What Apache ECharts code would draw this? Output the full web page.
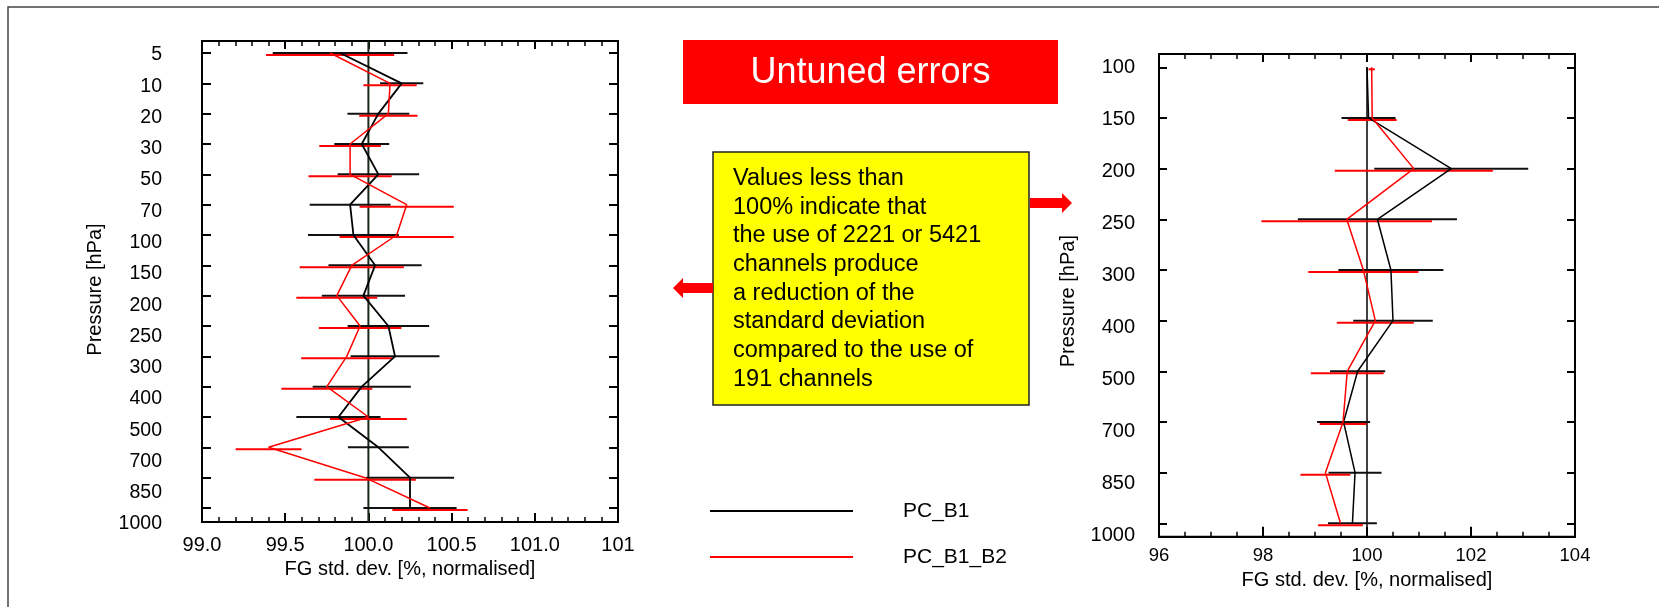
<!DOCTYPE html>
<html>
<head>
<meta charset="utf-8">
<script src="https://cdn.jsdelivr.net/npm/echarts@6/dist/echarts.min.js"></script>
<style>
html,body{margin:0;padding:0;background:#fff;}
#c{width:1659px;height:607px;}
</style>
</head>
<body>
<div id="c"></div>
<script>
// ---- Left panel data ----
const levelsL = ['5','10','20','30','50','70','100','150','200','250','300','400','500','700','850','1000'];
const b1L    = [99.83,100.20,100.06,99.96,100.06,99.89,99.91,100.04,99.97,100.12,100.16,99.96,99.82,100.06,100.25,100.25];
const b1ErrL = [0.405,0.13,0.186,0.165,0.245,0.243,0.273,0.28,0.25,0.245,0.267,0.295,0.253,0.183,0.265,0.28];
const b2L    = [99.77,100.13,100.12,99.89,99.89,100.23,100.17,99.90,99.81,99.95,99.87,99.75,100.00,99.40,99.98,100.37];
const b2ErrL = [0.385,0.16,0.175,0.185,0.25,0.283,0.343,0.313,0.243,0.248,0.274,0.273,0.231,0.198,0.305,0.226];
const xTicksL = ['99.0','99.5','100.0','100.5','101.0','101'];

// ---- Right panel data ----
const levelsR = ['100','150','200','250','300','400','500','700','850','1000'];
const b1R    = [100.00,100.03,101.62,100.20,100.46,100.50,99.82,99.55,99.77,99.72];
const b1ErrR = [0,0.52,1.48,1.53,1.01,0.765,0.53,0.51,0.51,0.47];
const b2R    = [100.09,100.10,100.90,99.61,99.93,100.16,99.62,99.54,99.20,99.49];
const b2ErrR = [0.06,0.47,1.52,1.64,1.06,0.74,0.70,0.45,0.48,0.43];
const xTicksR = ['96','98','100','102','104'];

const seriesNames = ['PC_B1','PC_B1_B2'];
const boxLines = ['Values less than','100% indicate that','the use of 2221 or 5421','channels produce','a reduction of the','standard deviation','compared to the use of','191 channels'];

const FONT = '"Liberation Sans", Arial, Helvetica, sans-serif';

function lineSeries(name, vals, color, width, xi, yi) {
  return {
    type:'line', name:name, xAxisIndex:xi, yAxisIndex:yi,
    data: vals.map((v,i)=>[v,i]), showSymbol:false, symbol:'none',
    color:color, lineStyle:{color:color,width:width}, silent:true, clip:false, z:3
  };
}
function errSeries(vals, errs, color, dy, xi, yi) {
  return {
    type:'custom', xAxisIndex:xi, yAxisIndex:yi, silent:true, clip:false, z:2,
    data: vals.map((v,i)=>[v, errs[i], i]),
    encode:{x:0, y:2},
    renderItem:function(params, api){
      const x = api.value(0), e = api.value(1), y = api.value(2);
      if (!e) return null;
      const a = api.coord([x-e, y]), b = api.coord([x+e, y]);
      return {type:'line', shape:{x1:a[0], y1:a[1]+dy, x2:b[0], y2:b[1]+dy},
              style:{stroke:color, lineWidth:2}};
    }
  };
}

const hiddenAxis = (g,min,max,inv)=>({type:'value', gridIndex:g, min:min, max:max, inverse:!!inv, show:false});
const frameX = (g,pos,min,max,itv,split,majLen,labelOpt,nameOpt)=>Object.assign({
  type:'value', gridIndex:g, position:pos, min:min, max:max, interval:itv,
  axisLine:{show:true, onZero:false, lineStyle:{color:'#000', width:2}},
  splitLine:{show:false},
  axisTick:{show:true, inside:true, length:majLen, lineStyle:{color:'#000', width:2}},
  minorTick:{show:true, splitNumber:split, length:5, lineStyle:{color:'#000', width:1.5}},
  axisLabel:labelOpt || {show:false}
}, nameOpt || {});
const tickY = (g,pos,max,len)=>({type:'value', gridIndex:g, position:pos, min:0, max:max, interval:1, inverse:true,
  axisLine:{show:false}, splitLine:{show:false}, axisLabel:{show:false},
  axisTick:{show:true, inside:true, length:len, lineStyle:{color:'#000', width:2}}});

const chart = echarts.init(document.getElementById('c'), null, {renderer:'canvas'});
chart.setOption({
  animation:false,
  backgroundColor:'#fff',
  textStyle:{fontFamily:FONT},
  grid:[
    {left:202, top:53, width:416, height:455, show:false},                                  // 0 left data
    {left:202, top:41, width:416, height:481, show:true, borderColor:'#000', borderWidth:2, backgroundColor:'transparent'}, // 1 left frame
    {left:170, top:55, width:10, height:469, show:false},                                   // 2 left labels
    {left:1159, top:67.3, width:416, height:456, show:false},                               // 3 right data
    {left:1159, top:54, width:416, height:482.7, show:true, borderColor:'#000', borderWidth:2, backgroundColor:'transparent'}, // 4 right frame
    {left:1143, top:67.3, width:10, height:467.7, show:false}                               // 5 right labels
  ],
  xAxis:[
    hiddenAxis(0,99,101.5),
    frameX(1,'bottom',99,101.5,0.5,5,9,
      {show:true, margin:13, fontSize:20, color:'#000', fontFamily:FONT, formatter:v=>xTicksL[Math.round((v-99)/0.5)]},
      {name:'FG std. dev. [%, normalised]', nameLocation:'middle', nameGap:33,
       nameTextStyle:{fontSize:20, color:'#000', fontFamily:FONT}}),
    frameX(1,'top',99,101.5,0.5,5,8),
    hiddenAxis(2,0,1),
    hiddenAxis(3,96,104),
    frameX(4,'bottom',96,104,2,4,10,
      {show:true, margin:10, fontSize:18.5, color:'#000', fontFamily:FONT, formatter:v=>xTicksR[Math.round((v-96)/2)]},
      {name:'FG std. dev. [%, normalised]', nameLocation:'middle', nameGap:33.5,
       nameTextStyle:{fontSize:20, color:'#000', fontFamily:FONT}}),
    frameX(4,'top',96,104,2,4,8),
    hiddenAxis(5,0,1)
  ],
  yAxis:[
    tickY(0,'left',15,9),
    tickY(0,'right',15,9),
    hiddenAxis(1,0,1,true),
    {type:'value', gridIndex:2, position:'left', min:0, max:15, interval:1, inverse:true,
     axisLine:{show:false}, axisTick:{show:false}, splitLine:{show:false},
     axisLabel:{margin:8, fontSize:19.5, color:'#000', fontFamily:FONT, formatter:v=>levelsL[v]||''},
     name:'Pressure [hPa]', nameLocation:'middle', nameRotate:90, nameGap:65,
     nameTextStyle:{fontSize:20, color:'#000', fontFamily:FONT}},
    tickY(3,'left',9,8),
    tickY(3,'right',9,8),
    hiddenAxis(4,0,1,true),
    {type:'value', gridIndex:5, position:'left', min:0, max:9, interval:1, inverse:true,
     axisLine:{show:false}, axisTick:{show:false}, splitLine:{show:false},
     axisLabel:{margin:8, fontSize:20, color:'#000', fontFamily:FONT, formatter:v=>levelsR[v]||''},
     name:'Pressure [hPa]', nameLocation:'middle', nameRotate:90, nameGap:65,
     nameTextStyle:{fontSize:20, color:'#000', fontFamily:FONT}}
  ],
  legend:{
    orient:'vertical', left:705, top:494, itemWidth:143, itemHeight:2, itemGap:22, icon:'rect',
    selectedMode:false, data:seriesNames,
    textStyle:{fontSize:21, color:'#000', fontFamily:FONT, lineHeight:24, padding:[0,0,0,45]}
  },
  series:[
    {type:'line', xAxisIndex:1, yAxisIndex:2, data:[[100,0],[100,1]], symbol:'none', silent:true,
     lineStyle:{color:'#1a2a1a', width:2}, color:'#1a2a1a', z:1},
    errSeries(b1L, b1ErrL, '#111', 0, 0, 0),
    errSeries(b2L, b2ErrL, '#ff0000', 2, 0, 0),
    lineSeries(seriesNames[0], b1L, '#000', 1.8, 0, 0),
    lineSeries(seriesNames[1], b2L, '#ff0000', 1.5, 0, 0),
    {type:'line', xAxisIndex:4, yAxisIndex:4, data:[[100,0],[100,9.265]], symbol:'none', silent:true, clip:false,
     lineStyle:{color:'#000', width:1.5}, color:'#000', z:1},
    errSeries(b1R, b1ErrR, '#111', 0, 4, 4),
    errSeries(b2R, b2ErrR, '#ff0000', 2, 4, 4),
    lineSeries(seriesNames[0], b1R, '#000', 1.5, 4, 4),
    lineSeries(seriesNames[1], b2R, '#ff0000', 1.5, 4, 4)
  ],
  graphic:[
    {type:'rect', shape:{x:8, y:7, width:1700, height:700}, style:{fill:'none', stroke:'#444', lineWidth:1.5}, silent:true, z:-1},
    {type:'rect', shape:{x:683, y:40, width:375, height:64}, style:{fill:'#ff0000'}, silent:true},
    {type:'text', x:870.5, y:73, style:{text:'Untuned errors', fill:'#fff', font:'36px '+FONT, textAlign:'center', textVerticalAlign:'middle'}, silent:true},
    {type:'rect', shape:{x:713, y:152, width:316, height:253}, style:{fill:'#ffff00', stroke:'#222', lineWidth:1.5}, silent:true},
    {type:'text', x:733, y:164, style:{text:boxLines.join('\n'), fill:'#000', font:'23.5px '+FONT, lineHeight:28.7, textVerticalAlign:'top'}, silent:true},
    {type:'polygon', shape:{points:[[673,288],[683,278],[683,283],[713,283],[713,293],[683,293],[683,298]]}, style:{fill:'#ff0000'}, silent:true},
    {type:'polygon', shape:{points:[[1030,198],[1062,198],[1062,193],[1072,203],[1062,213],[1062,208],[1030,208]]}, style:{fill:'#ff0000'}, silent:true}
  ]
});
</script>
</body>
</html>
